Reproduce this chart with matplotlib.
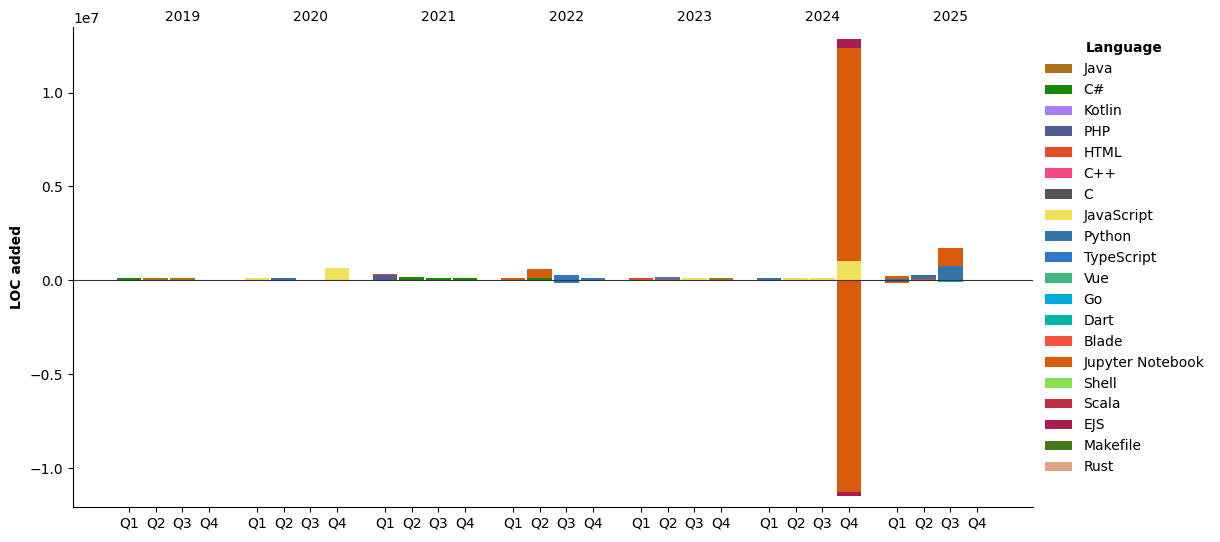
import numpy as np
import matplotlib
matplotlib.use("Agg")
import matplotlib.pyplot as plt

years = ["2019", "2020", "2021", "2022", "2023", "2024", "2025"]
quarters = ["Q1", "Q2", "Q3", "Q4"]

languages = ["Java", "C#", "Kotlin", "PHP", "HTML", "C++", "C", "JavaScript",
             "Python", "TypeScript", "Vue", "Go", "Dart", "Blade",
             "Jupyter Notebook", "Shell", "Scala", "EJS", "Makefile", "Rust"]
colors = ["#b07219", "#178600", "#a97bff", "#4f5d95", "#e34c26", "#f34b7d",
          "#555555", "#f1e05a", "#3572a5", "#3178c6", "#41b883", "#00add8",
          "#00b4ab", "#f7523f", "#da5b0b", "#89e051", "#c22d40", "#a91e50",
          "#427819", "#dea584"]

# LOC added / deleted per quarter (thousands), 2019Q1 .. 2025Q4
added = {
    "Java":             [0, 115, 115, 0,  0, 0, 0, 0,  0, 0, 0, 0,  0, 0, 0, 0,  0, 0, 0, 115,  0, 0, 0, 0,  0, 0, 0, 0],
    "C#":               [115, 0, 0, 0,  0, 0, 0, 0,  0, 190, 150, 110,  0, 120, 0, 0,  0, 0, 0, 0,  0, 0, 0, 0,  0, 0, 0, 0],
    "PHP":              [0, 0, 0, 0,  0, 0, 0, 0,  310, 0, 0, 0,  0, 0, 0, 0,  0, 0, 0, 0,  0, 0, 0, 0,  0, 0, 0, 0],
    "HTML":             [0, 0, 0, 0,  0, 0, 0, 0,  40, 0, 0, 0,  0, 0, 0, 0,  110, 100, 0, 0,  0, 0, 0, 0,  0, 60, 0, 0],
    "JavaScript":       [0, 0, 0, 0,  110, 0, 0, 640,  0, 0, 0, 0,  0, 0, 0, 0,  0, 0, 110, 0,  0, 110, 110, 1020,  0, 0, 0, 0],
    "Python":           [0, 0, 0, 0,  0, 115, 0, 0,  0, 0, 0, 0,  0, 0, 0, 0,  0, 0, 0, 0,  115, 0, 0, 0,  90, 210, 700, 0],
    "TypeScript":       [0, 0, 0, 0,  0, 0, 0, 0,  0, 0, 0, 0,  0, 0, 280, 130,  0, 80, 0, 0,  0, 0, 0, 0,  0, 0, 50, 0],
    "Jupyter Notebook": [0, 0, 0, 0,  0, 0, 0, 0,  0, 0, 0, 0,  110, 500, 0, 0,  0, 0, 0, 0,  0, 0, 0, 11350,  150, 0, 1000, 0],
    "EJS":              [0, 0, 0, 0,  0, 0, 0, 0,  0, 0, 0, 0,  0, 0, 0, 0,  0, 0, 0, 0,  0, 0, 0, 480,  0, 0, 0, 0],
}
deleted = {
    "Python":           [0, 0, 0, 0,  0, 0, 0, 0,  0, 0, 0, 0,  0, 0, 0, 0,  0, 0, 0, 0,  0, 0, 0, 0,  -60, -30, 0, 0],
    "TypeScript":       [0, 0, 0, 0,  0, 0, 0, 0,  0, 0, 0, 0,  0, 0, -160, 0,  0, 0, 0, 0,  0, 0, 0, 0,  0, 0, 0, 0],
    "Go":               [0, 0, 0, 0,  0, 0, 0, 0,  0, 0, 0, 0,  0, 0, 0, 0,  0, 0, 0, 0,  0, 0, 0, 0,  0, 0, -70, 0],
    "Jupyter Notebook": [0, 0, 0, 0,  0, 0, 0, 0,  0, 0, 0, 0,  0, 0, 0, 0,  0, 0, 0, 0,  0, 0, 0, -11280,  -70, 0, 0, 0],
    "EJS":              [0, 0, 0, 0,  0, 0, 0, 0,  0, 0, 0, 0,  0, 0, 0, 0,  0, 0, 0, 0,  0, 0, 0, -210,  0, 0, 0, 0],
}

n = len(years) * len(quarters)
x = np.array([y * 4.8 + q for y in range(len(years)) for q in range(4)])

fig = plt.figure(figsize=(12.2, 5.42), dpi=100)
ax = fig.add_axes([0.0598, 0.0646, 0.787, 0.8856])

pos_bottom = np.zeros(n)
neg_bottom = np.zeros(n)
for lang, col in zip(languages, colors):
    a = np.array(added.get(lang, [0] * n), dtype=float) * 1000
    d = np.array(deleted.get(lang, [0] * n), dtype=float) * 1000
    ax.bar(x, a, width=0.93, bottom=pos_bottom, color=col, label=lang)
    ax.bar(x, d, width=0.93, bottom=neg_bottom, color=col)
    pos_bottom += a
    neg_bottom += d

ax.axhline(0, color="#333333", linewidth=0.8)
ax.set_ylim(neg_bottom.min() * 1.05, pos_bottom.max() * 1.05)
ax.set_xticks(x)
ax.set_xticklabels(quarters * len(years))
ax.set_ylabel("LOC added", fontweight="bold")
ax.spines["top"].set_visible(False)
ax.spines["right"].set_visible(False)

for i, yr in enumerate(years):
    ax.text(i * 4.8 + 2, 1.006, yr, transform=ax.get_xaxis_transform(),
            ha="center", va="bottom", fontsize=10)

leg = ax.legend(title="Language", loc="upper left", bbox_to_anchor=(0.999, 0.996),
                frameon=False)
leg.get_title().set_fontweight("bold")

fig.savefig("out.png", dpi=100)
